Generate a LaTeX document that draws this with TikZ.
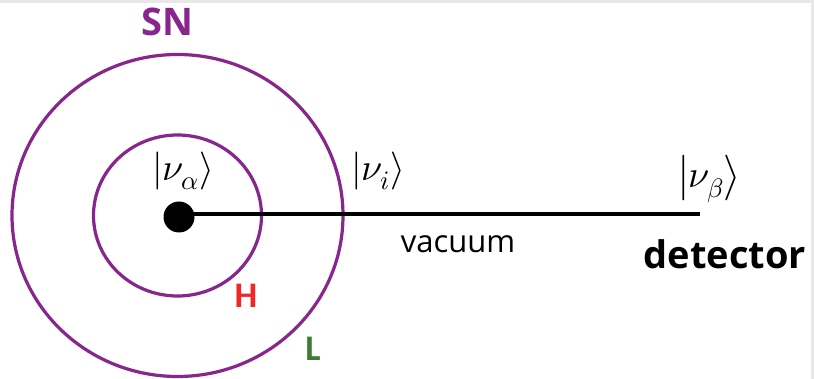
\documentclass[tikz,border=0pt]{standalone}
\usepackage{fontspec}
\usepackage{unicode-math}
\setmathfont{Latin Modern Math}
\setsansfont{Open Sans}
\newfontfamily\tagfont{Carlito}
\usetikzlibrary{positioning}
\definecolor{snpurple}{RGB}{135,38,140}
\definecolor{hred}{RGB}{238,40,40}
\definecolor{lgreen}{RGB}{62,125,45}
\tikzset{shell/.style={draw=snpurple,line width=3.2pt},
  lbl/.style={font=\sffamily\bfseries\fontsize{38}{38}\selectfont,inner sep=0pt},
  tag/.style={font=\tagfont\bfseries\fontsize{36}{36}\selectfont,inner sep=0pt},
  ket/.style={font=\fontsize{38}{38}\selectfont,inner sep=0pt}}

\begin{document}
\begin{tikzpicture}[x=1pt,y=-1pt]
\fill[gray!18] (0,0) rectangle (814,379);\fill[white] (0,3) rectangle (811,379);
\useasboundingbox (0,0) rectangle (814,379);
\foreach \rx/\ry in {165.5/161,84/80.5}{\draw[shell] (177.5,215.5) ellipse ({\rx pt} and {\ry pt});}
\node[circle,fill=black,inner sep=0pt,minimum size=31pt] (src) at (179,217) {};
\coordinate (o) at (179,214);\coordinate (det) at (700,214);
\draw[line width=4pt] (o)--(det);
\node[lbl,text=snpurple] (sn) at (167,22) {SN};
\node[ket] (ka) at (183,171) {$\left|\nu_\alpha\right\rangle$};
\node[ket] (ki) at (378,171) {$\left|\nu_i\right\rangle$};
\node[ket] (kb) at (710,179) {$\left|\nu_\beta\right\rangle$};
\node[font=\sffamily\fontsize{31}{31}\selectfont,inner sep=0pt] (vac) at (458,244) {vacuum};
\node[lbl] (dtc) at (725,254) {detector};
\node[tag,text=hred] (h) at (246,296) {H};\node[tag,text=lgreen] (l) at (313,349) {L};
\end{tikzpicture}
\end{document}
